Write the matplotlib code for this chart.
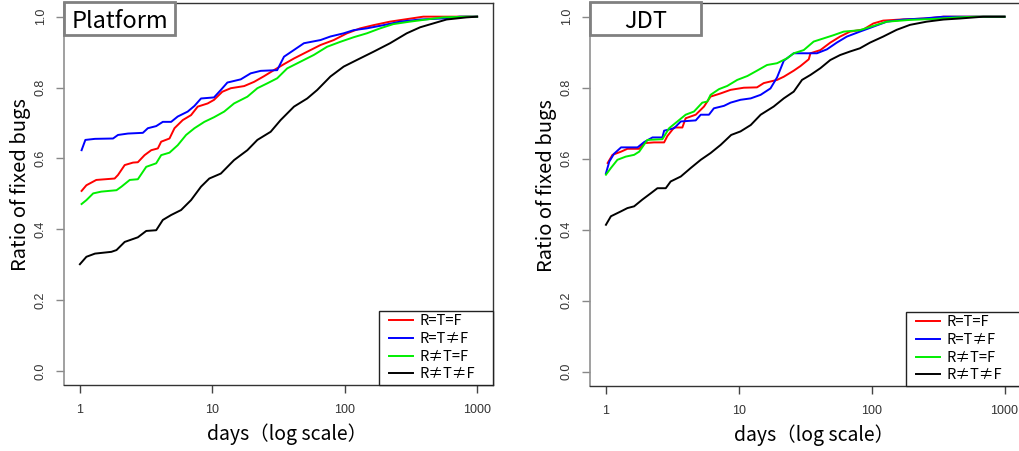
import matplotlib
matplotlib.use("Agg")
import matplotlib.pyplot as plt
from matplotlib.patches import Rectangle
from matplotlib.lines import Line2D
from matplotlib.legend_handler import HandlerLine2D

# ---------------- data ----------------
labels = ["R=T=F", "R=T≠F", "R≠T=F", "R≠T≠F"]
colors = ["#ff0000", "#0000ff", "#00ee00", "#000000"]

# Platform
plat_a_x = [1.03, 1.12, 1.33, 1.83, 1.94, 2.18, 2.52, 2.74, 3.08, 3.46, 3.88, 4.11, 4.75, 5.18, 5.98, 6.91, 7.76, 9.23, 10.3, 11.9, 13.8, 17.4, 20.7, 24.6, 29.2, 34.8, 41.4, 52.1, 65.7, 82.7, 104, 131, 165, 220, 294, 392, 1000]
plat_a_y = [0.508, 0.524, 0.539, 0.543, 0.553, 0.581, 0.588, 0.589, 0.609, 0.623, 0.628, 0.647, 0.656, 0.685, 0.708, 0.722, 0.746, 0.755, 0.765, 0.788, 0.798, 0.804, 0.816, 0.832, 0.849, 0.866, 0.882, 0.901, 0.920, 0.934, 0.953, 0.967, 0.976, 0.986, 0.993, 1.0, 1.0]
plat_b_x = [1.03, 1.10, 1.30, 1.78, 1.94, 2.31, 2.99, 3.26, 3.77, 4.23, 4.89, 5.48, 6.52, 7.33, 8.22, 10.3, 11.6, 13.0, 16.4, 19.5, 23.2, 30.9, 34.8, 41.4, 49.2, 65.7, 78.0, 98.2, 117, 147, 196, 262, 371, 553, 740, 1000]
plat_b_y = [0.623, 0.652, 0.655, 0.656, 0.666, 0.670, 0.672, 0.685, 0.691, 0.703, 0.703, 0.718, 0.732, 0.748, 0.769, 0.772, 0.793, 0.814, 0.823, 0.840, 0.847, 0.849, 0.887, 0.906, 0.925, 0.934, 0.944, 0.953, 0.962, 0.967, 0.976, 0.986, 0.992, 0.995, 1.0, 1.0]
plat_c_x = [1.03, 1.12, 1.26, 1.45, 1.89, 2.06, 2.38, 2.74, 3.17, 3.77, 4.11, 4.75, 5.48, 6.34, 7.33, 8.71, 10.3, 12.3, 14.6, 18.4, 21.9, 26.1, 30.9, 36.8, 46.4, 58.5, 73.6, 92.7, 117, 147, 185, 233, 311, 415, 553, 830, 1000]
plat_c_y = [0.471, 0.482, 0.501, 0.506, 0.510, 0.520, 0.539, 0.541, 0.576, 0.586, 0.609, 0.616, 0.637, 0.666, 0.685, 0.703, 0.716, 0.732, 0.755, 0.774, 0.798, 0.812, 0.826, 0.854, 0.873, 0.892, 0.915, 0.929, 0.942, 0.953, 0.967, 0.979, 0.986, 0.992, 0.998, 1.0, 1.0]
plat_d_x = [1.0, 1.12, 1.30, 1.73, 1.89, 2.18, 2.74, 3.17, 3.77, 4.23, 4.89, 5.81, 6.91, 8.22, 9.49, 11.6, 14.6, 18.4, 21.9, 27.6, 32.8, 41.4, 52.1, 62.0, 78.0, 98.2, 124, 165, 220, 294, 371, 467, 588, 831, 1000]
plat_d_y = [0.301, 0.322, 0.331, 0.336, 0.341, 0.364, 0.377, 0.395, 0.397, 0.426, 0.440, 0.454, 0.482, 0.520, 0.543, 0.557, 0.595, 0.623, 0.652, 0.675, 0.708, 0.746, 0.769, 0.793, 0.831, 0.859, 0.878, 0.901, 0.925, 0.953, 0.970, 0.981, 0.992, 0.998, 1.0]

# JDT
jdt_a_x = [1.03, 1.12, 1.30, 1.45, 1.78, 1.94, 2.30, 2.74, 2.90, 3.26, 3.76, 3.98, 4.74, 5.47, 6.13, 7.30, 8.67, 10.9, 13.7, 15.4, 19.4, 21.8, 25.9, 29.1, 33.6, 34.6, 41.1, 48.8, 57.8, 68.7, 86.5, 103, 122, 164, 259, 347, 1000]
jdt_a_y = [0.588, 0.611, 0.620, 0.628, 0.628, 0.644, 0.646, 0.646, 0.664, 0.688, 0.688, 0.714, 0.724, 0.747, 0.775, 0.784, 0.794, 0.800, 0.801, 0.813, 0.822, 0.831, 0.848, 0.861, 0.880, 0.897, 0.906, 0.927, 0.944, 0.958, 0.964, 0.981, 0.989, 0.992, 0.995, 1.0, 1.0]
jdt_b_x = [1.0, 1.06, 1.15, 1.30, 1.73, 1.94, 2.24, 2.66, 2.74, 3.26, 3.66, 4.74, 5.17, 5.96, 6.49, 7.74, 8.67, 10.3, 12.3, 14.6, 17.3, 19.4, 21.8, 25.9, 32.5, 38.7, 46.0, 54.6, 65.0, 81.5, 103, 130, 173, 245, 347, 1000]
jdt_b_y = [0.559, 0.592, 0.614, 0.632, 0.632, 0.647, 0.660, 0.660, 0.679, 0.686, 0.705, 0.708, 0.724, 0.724, 0.742, 0.749, 0.758, 0.766, 0.770, 0.780, 0.798, 0.829, 0.876, 0.897, 0.897, 0.897, 0.908, 0.927, 0.944, 0.958, 0.972, 0.986, 0.992, 0.995, 1.0, 1.0]
jdt_c_x = [1.0, 1.09, 1.22, 1.41, 1.63, 1.78, 2.05, 2.66, 2.99, 3.45, 3.98, 4.60, 5.31, 5.79, 6.13, 7.09, 8.18, 9.73, 11.6, 13.7, 16.3, 19.4, 23.1, 25.9, 30.8, 36.6, 43.5, 51.7, 61.5, 81.5, 103, 130, 194, 307, 435, 614, 1000]
jdt_c_y = [0.555, 0.574, 0.597, 0.606, 0.611, 0.620, 0.653, 0.655, 0.686, 0.705, 0.724, 0.733, 0.758, 0.761, 0.780, 0.796, 0.805, 0.822, 0.833, 0.848, 0.864, 0.869, 0.883, 0.897, 0.906, 0.930, 0.939, 0.948, 0.958, 0.962, 0.974, 0.986, 0.991, 0.994, 0.998, 1.0, 1.0]
jdt_d_x = [1.0, 1.09, 1.30, 1.45, 1.63, 1.88, 2.18, 2.44, 2.82, 3.07, 3.66, 4.35, 5.17, 6.13, 7.30, 8.76, 10.3, 12.3, 14.6, 18.3, 21.8, 25.9, 29.9, 34.6, 41.1, 48.8, 57.8, 68.7, 81.5, 97.1, 122, 154, 194, 259, 347, 463, 690, 1000]
jdt_d_y = [0.414, 0.438, 0.452, 0.461, 0.466, 0.485, 0.503, 0.517, 0.517, 0.536, 0.550, 0.574, 0.597, 0.616, 0.639, 0.667, 0.677, 0.695, 0.724, 0.747, 0.770, 0.789, 0.822, 0.836, 0.855, 0.878, 0.892, 0.902, 0.911, 0.927, 0.944, 0.963, 0.977, 0.986, 0.992, 0.995, 1.0, 1.0]

panels = [
    ("Platform", [(plat_a_x, plat_a_y), (plat_b_x, plat_b_y), (plat_c_x, plat_c_y), (plat_d_x, plat_d_y)]),
    ("JDT", [(jdt_a_x, jdt_a_y), (jdt_b_x, jdt_b_y), (jdt_c_x, jdt_c_y), (jdt_d_x, jdt_d_y)]),
]

xticks = [1, 10, 100, 1000]
xticklabels = ["1", "10", "100", "1000"]
yticks = [0.0, 0.2, 0.4, 0.6, 0.8, 1.0]
yticklabels = ["0.0", "0.2", "0.4", "0.6", "0.8", "1.0"]

JP = ["Noto Sans CJK JP", "DejaVu Sans"]

# ---------------- figure ----------------
fig = plt.figure(figsize=(10.19, 4.51), dpi=100)
W, H = 1019, 451
axes_px = [(64, 2.5, 429, 382.5), (590, 2.5, 430.5, 383.5)]
legend_px = [(379, 311, 114), (906, 312, 114)]

for (title, series), (l, t, w, h), (lx, ly, lw_) in zip(panels, axes_px, legend_px):
    ax = fig.add_axes([l / W, 1 - (t + h) / H, w / W, h / H])
    for (xs, ys), c, lab in zip(series, colors, labels):
        ax.plot(xs, ys, color=c, lw=1.4, label=lab)
    ax.set_xscale("log")
    ax.set_xlim(10 ** -0.12, 10 ** 3.12)
    ax.set_ylim(-0.04, 1.04)
    ax.set_xticks(xticks)
    ax.set_xticklabels(xticklabels, fontsize=9, color="#333333", family="Liberation Sans")
    ax.xaxis.set_minor_locator(matplotlib.ticker.NullLocator())
    ax.set_yticks(yticks)
    ax.set_yticklabels(yticklabels, fontsize=9, color="#333333", family="Liberation Sans",
                       rotation=90, va="center")
    ax.tick_params(axis="x", length=6, width=1, color="#444444", pad=8)
    ax.tick_params(axis="y", length=5.5, width=1, color="#888888", pad=7)
    for s in ["top", "right", "bottom"]:
        ax.spines[s].set_color("#333333")
        ax.spines[s].set_linewidth(1)
    ax.spines["left"].set_color("#909090")
    ax.spines["left"].set_linewidth(1.2)

    ax.set_xlabel("days（log scale）", fontsize=14, family=JP)
    ax.xaxis.set_label_coords(0.5 + 9 / w, -38 / h)
    ax.set_ylabel("Ratio of fixed bugs", fontsize=14.5, family=JP)
    ax.yaxis.set_label_coords(-33 / w, 0.523)

    # title box
    bw, bh = 111 / w, 32 / h
    ax.add_patch(Rectangle((0, 1 - bh), bw, bh, transform=ax.transAxes,
                           facecolor="white", edgecolor="#808080", lw=2, clip_on=False, zorder=5))
    ax.text(bw / 2, 1 - bh / 2 - 3 / h, title, transform=ax.transAxes, ha="center", va="center",
            fontsize=17, family=JP, zorder=6)

    # legend box (lower right)
    x0 = (lx - l) / w
    lh = (t + h - ly) / h
    leg = ax.legend(loc="lower left", bbox_to_anchor=(x0, 0, lw_ / w, lh), mode="expand",
                    borderaxespad=0, fancybox=False, framealpha=1,
                    edgecolor="#222222", prop={"family": JP, "size": 10.5},
                    handlelength=2.05, handletextpad=0.45, borderpad=0.25, labelspacing=0.25,
                    handler_map={Line2D: HandlerLine2D(xpad=0.45)})
    leg.get_frame().set_linewidth(1)

fig.savefig("out.png", dpi=100)
